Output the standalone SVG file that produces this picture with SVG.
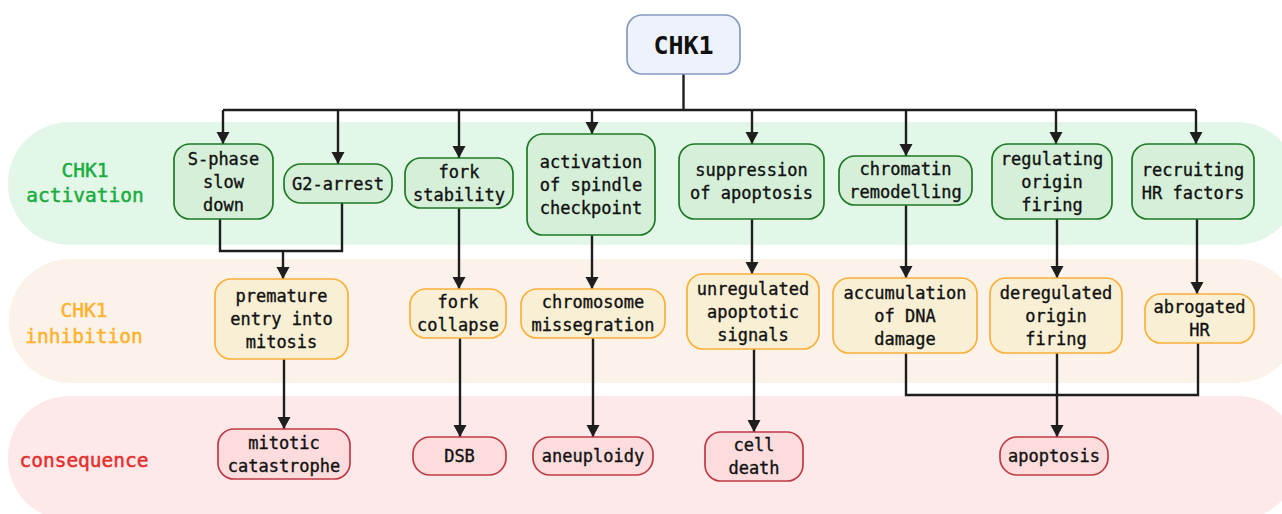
<svg xmlns="http://www.w3.org/2000/svg" width="1282" height="514" viewBox="0 0 1282 514">
<style>
text{font-family:"DejaVu Sans Mono","Liberation Mono",monospace;text-anchor:middle}
.t{font-size:17px;fill:#111;stroke:#111;stroke-width:0.35}
.lab{font-size:19.5px;stroke-width:0.5}
.g rect{fill:#d5efd8;stroke:#1f7a25;stroke-width:1.7}
.o rect{fill:#f8efd4;stroke:#fbb03b;stroke-width:1.7}
.r rect{fill:#fcdcdd;stroke:#c03a44;stroke-width:1.7}
.c path{fill:none;stroke:#1e1e1e;stroke-width:2.4}
</style>
<defs>
<marker id="ah" markerUnits="userSpaceOnUse" markerWidth="16" markerHeight="16" viewBox="0 0 16 16" refX="13" refY="8" orient="auto">
<path d="M1,1.5 L13,8 L1,14.5 Z" fill="#1e1e1e"/>
</marker>
</defs>
<g id="bands">
<rect x="8" y="122" width="1290" height="123" rx="61" fill="#e3f7e9"/>
<rect x="9" y="259" width="1289" height="124" rx="61" fill="#fbf3e9"/>
<rect x="8" y="396" width="1290" height="124" rx="61" fill="#fde9ea"/>
<text class="lab" x="85" y="177" fill="#19ad3d" stroke="#19ad3d">CHK1</text>
<text class="lab" x="85" y="202" fill="#19ad3d" stroke="#19ad3d">activation</text>
<text class="lab" x="84" y="317" fill="#ffb22e" stroke="#ffb22e">CHK1</text>
<text class="lab" x="84" y="343" fill="#ffb22e" stroke="#ffb22e">inhibition</text>
<text class="lab" x="84" y="467" fill="#e3302e" stroke="#e3302e">consequence</text>
</g>
<g id="connectors" class="c">
<path d="M683.5 74 V110"/>
<path d="M223 110 H1196"/>
<path d="M223 110 V144" marker-end="url(#ah)"/>
<path d="M338 110 V164" marker-end="url(#ah)"/>
<path d="M459 110 V158" marker-end="url(#ah)"/>
<path d="M592 110 V134" marker-end="url(#ah)"/>
<path d="M752 110 V144" marker-end="url(#ah)"/>
<path d="M906 110 V156" marker-end="url(#ah)"/>
<path d="M1056 110 V144" marker-end="url(#ah)"/>
<path d="M1196 110 V144" marker-end="url(#ah)"/>
<path d="M220 219 V251 H342 V203"/>
<path d="M283 251 V279" marker-end="url(#ah)"/>
<path d="M284 359 V429" marker-end="url(#ah)"/>
<path d="M459 208 V289" marker-end="url(#ah)"/>
<path d="M460 338 V437" marker-end="url(#ah)"/>
<path d="M592 235 V289" marker-end="url(#ah)"/>
<path d="M593 338 V437" marker-end="url(#ah)"/>
<path d="M752 219 V274" marker-end="url(#ah)"/>
<path d="M754 349 V432" marker-end="url(#ah)"/>
<path d="M906 205 V278" marker-end="url(#ah)"/>
<path d="M1057 219 V278" marker-end="url(#ah)"/>
<path d="M1197 219 V294" marker-end="url(#ah)"/>
<path d="M906 353 V395 H1198 V343"/>
<path d="M1057 353 V437" marker-end="url(#ah)"/>
</g>
<g id="chk1">
<rect x="627" y="15" width="113" height="59" rx="15" fill="#eef3fb" stroke="#8499c2" stroke-width="1.7"/>
<text x="683.5" y="54" style="font-size:25px;font-weight:bold;fill:#111">CHK1</text>
</g>
<g id="sphase" class="g"><rect x="174" y="144" width="99" height="75" rx="16"/>
<text class="t"><tspan x="223.5" y="164.5">S-phase</tspan><tspan x="223.5" y="187.5">slow</tspan><tspan x="223.5" y="210.5">down</tspan></text></g>
<g id="g2arrest" class="g"><rect x="284" y="164" width="108" height="39" rx="17"/>
<text class="t" x="338" y="189.5">G2-arrest</text></g>
<g id="forkstab" class="g"><rect x="405" y="158" width="108" height="50" rx="16"/>
<text class="t"><tspan x="459" y="177.5">fork</tspan><tspan x="459" y="200.5">stability</tspan></text></g>
<g id="spindle" class="g"><rect x="527" y="134" width="128" height="101" rx="16"/>
<text class="t"><tspan x="591" y="167.5">activation</tspan><tspan x="591" y="190.5">of spindle</tspan><tspan x="591" y="213.5">checkpoint</tspan></text></g>
<g id="suppression" class="g"><rect x="679" y="144" width="145" height="75" rx="16"/>
<text class="t"><tspan x="751.5" y="176">suppression</tspan><tspan x="751.5" y="199">of apoptosis</tspan></text></g>
<g id="chromatin" class="g"><rect x="839" y="156" width="133" height="49" rx="16"/>
<text class="t"><tspan x="905.5" y="175">chromatin</tspan><tspan x="905.5" y="198">remodelling</tspan></text></g>
<g id="regorigin" class="g"><rect x="992" y="144" width="120" height="75" rx="16"/>
<text class="t"><tspan x="1052" y="164.5">regulating</tspan><tspan x="1052" y="187.5">origin</tspan><tspan x="1052" y="210.5">firing</tspan></text></g>
<g id="recruiting" class="g"><rect x="1132" y="144" width="122" height="75" rx="16"/>
<text class="t"><tspan x="1193" y="176">recruiting</tspan><tspan x="1193" y="199">HR factors</tspan></text></g>
<g id="premature" class="o"><rect x="215" y="279" width="133" height="80" rx="16"/>
<text class="t"><tspan x="281.5" y="302">premature</tspan><tspan x="281.5" y="325">entry into</tspan><tspan x="281.5" y="348">mitosis</tspan></text></g>
<g id="forkcollapse" class="o"><rect x="410" y="289" width="96" height="49" rx="16"/>
<text class="t"><tspan x="458" y="308">fork</tspan><tspan x="458" y="331">collapse</tspan></text></g>
<g id="missegregation" class="o"><rect x="521" y="289" width="144" height="49" rx="16"/>
<text class="t"><tspan x="593" y="308">chromosome</tspan><tspan x="593" y="331">missegration</tspan></text></g>
<g id="unregulated" class="o"><rect x="687" y="274" width="132" height="75" rx="16"/>
<text class="t"><tspan x="753" y="294.5">unregulated</tspan><tspan x="753" y="317.5">apoptotic</tspan><tspan x="753" y="340.5">signals</tspan></text></g>
<g id="accumulation" class="o"><rect x="833" y="278" width="144" height="75" rx="16"/>
<text class="t"><tspan x="905" y="298.5">accumulation</tspan><tspan x="905" y="321.5">of DNA</tspan><tspan x="905" y="344.5">damage</tspan></text></g>
<g id="deregulated" class="o"><rect x="990" y="278" width="132" height="75" rx="16"/>
<text class="t"><tspan x="1056" y="298.5">deregulated</tspan><tspan x="1056" y="321.5">origin</tspan><tspan x="1056" y="344.5">firing</tspan></text></g>
<g id="abrogated" class="o"><rect x="1145" y="294" width="109" height="49" rx="16"/>
<text class="t"><tspan x="1199.5" y="313">abrogated</tspan><tspan x="1199.5" y="336">HR</tspan></text></g>
<g id="mitotic" class="r"><rect x="218" y="429" width="132" height="50" rx="16"/>
<text class="t"><tspan x="284" y="448.5">mitotic</tspan><tspan x="284" y="471.5">catastrophe</tspan></text></g>
<g id="dsb" class="r"><rect x="413" y="437" width="93" height="38" rx="17"/>
<text class="t" x="459.5" y="462">DSB</text></g>
<g id="aneuploidy" class="r"><rect x="533" y="437" width="120" height="38" rx="17"/>
<text class="t" x="593" y="462">aneuploidy</text></g>
<g id="celldeath" class="r"><rect x="705" y="432" width="98" height="49" rx="16"/>
<text class="t"><tspan x="754" y="451">cell</tspan><tspan x="754" y="474">death</tspan></text></g>
<g id="apoptosis" class="r"><rect x="1000" y="437" width="108" height="38" rx="17"/>
<text class="t" x="1054" y="462">apoptosis</text></g>
</svg>
